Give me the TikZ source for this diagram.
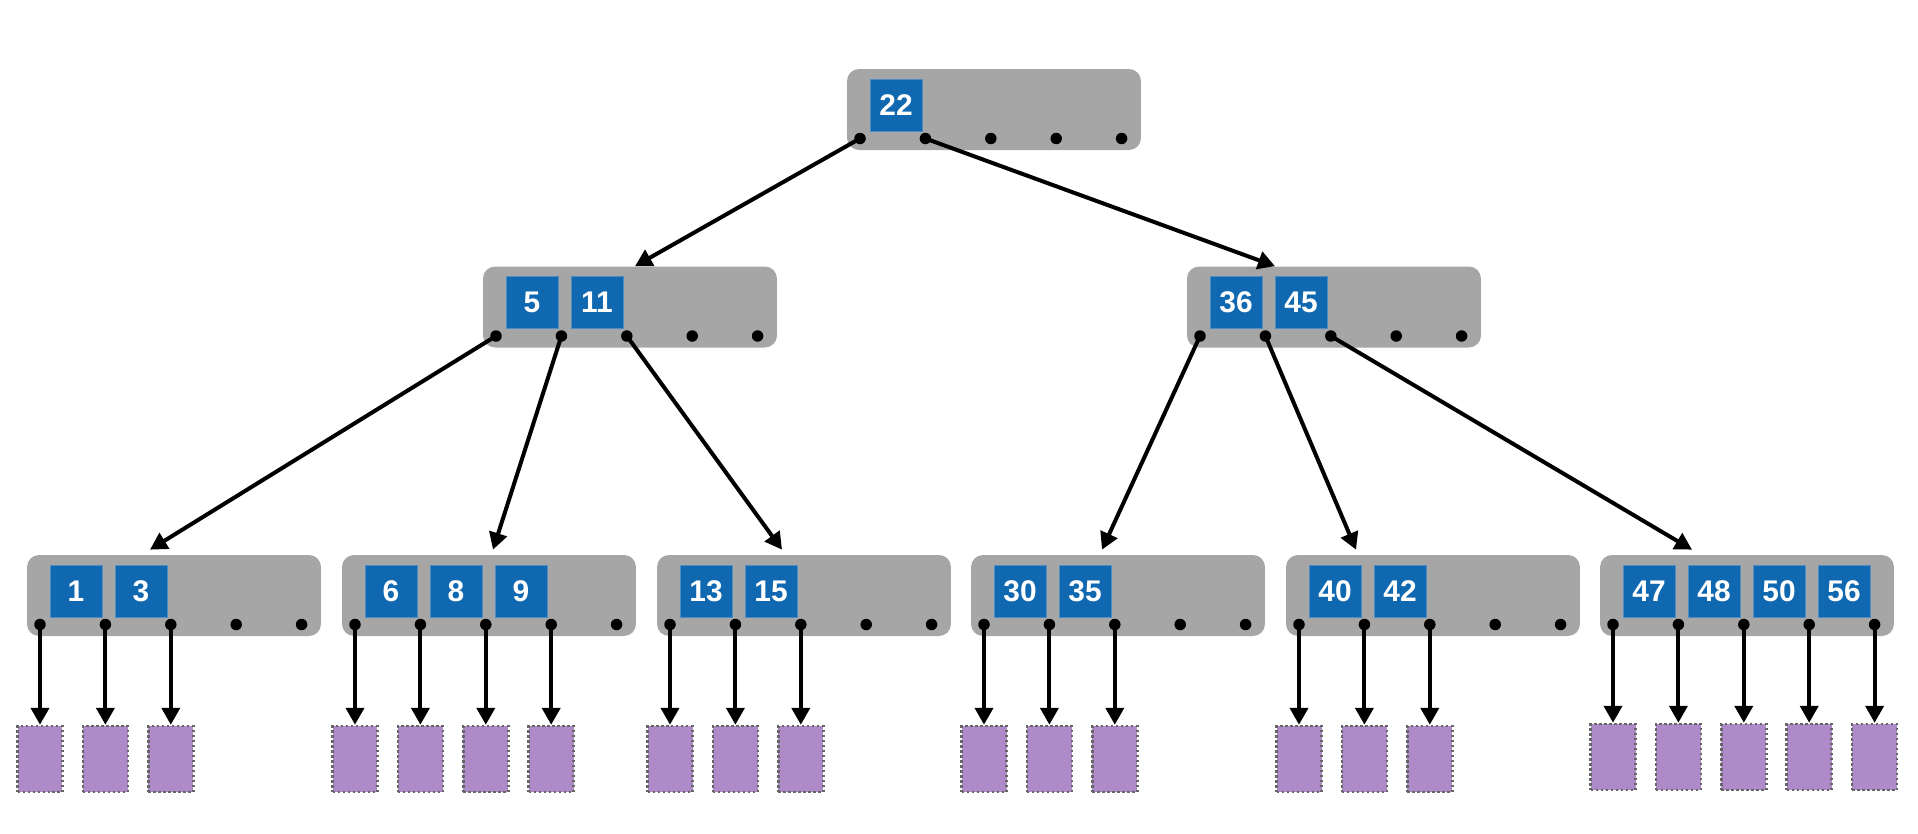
\documentclass[tikz,border=0pt]{standalone}
\usepackage{fontspec}
\setmainfont{Liberation Sans}
\usetikzlibrary{arrows.meta}

\definecolor{keyblue}{RGB}{16,104,176}
\definecolor{pagepurple}{RGB}{175,138,200}

\begin{document}
\begin{tikzpicture}
	[
		x=0.02cm, y=-0.02cm,
		bnode/.style = {shape=rectangle, rounded corners=0.24cm, fill=black!35, minimum width=5.88cm, minimum height=1.62cm, anchor=center},
		key/.style = {shape=rectangle, fill=keyblue, draw=keyblue!75!white, line width=0.4pt, inner sep=0pt, minimum size=1.04cm, text=white, font=\fontsize{17}{17}\selectfont\bfseries},
		ptr/.style = {shape=circle, fill=black, inner sep=0pt, minimum size=0.23cm},
		page/.style = {shape=rectangle, fill=pagepurple, draw=black!60, line width=0.05cm, dash pattern=on 0.05cm off 0.05cm, minimum width=0.9cm, minimum height=1.32cm},
		link/.style = {-{Triangle[length=0.34cm, width=0.36cm]}, line width=0.08cm}
	]
	
	\useasboundingbox (0,0) rectangle (1918,833);
	
	% root
	\def\x{994}
	\def\y{109.5}
	
	\node [bnode] (root) at (\x, \y) {};
	\node [key] (k22) at ({\x - 98}, {\y - 4.5}) {22};
	\foreach \i in {0,...,4}
		\node [ptr] (root-p\i) at ({\x - 134 + 65.4*\i}, {\y + 29}) {};
	
	% second level
	\def\y{307}
	\def\x{630}
	
	\node [bnode] (nl) at (\x, \y) {};
	\node [key] (k5) at ({\x - 98}, {\y - 4.5}) {5};
	\node [key] (k11) at ({\x - 33}, {\y - 4.5}) {11};
	\foreach \i in {0,...,4}
		\node [ptr] (nl-p\i) at ({\x - 134 + 65.4*\i}, {\y + 29}) {};
	
	\def\x{1334}
	
	\node [bnode] (nr) at (\x, \y) {};
	\node [key] (k36) at ({\x - 98}, {\y - 4.5}) {36};
	\node [key] (k45) at ({\x - 33}, {\y - 4.5}) {45};
	\foreach \i in {0,...,4}
		\node [ptr] (nr-p\i) at ({\x - 134 + 65.4*\i}, {\y + 29}) {};
	
	\draw [link] (root-p0.center) -- ([xshift=0.1cm]nl.north);
	\draw [link] (root-p1.center) -- ([xshift=-1.18cm]nr.north);
	
	% leaves
	\def\y{595.5}
	\def\x{174}
	
	\node [bnode] (la) at (\x, \y) {};
	\node [key] (k1) at ({\x - 98}, {\y - 4.5}) {1};
	\node [key] (k3) at ({\x - 33}, {\y - 4.5}) {3};
	\foreach \i in {0,...,4}
		\node [ptr] (la-p\i) at ({\x - 134 + 65.4*\i}, {\y + 29}) {};
	\foreach \i in {0,1,2} {
		\node [page] (la-d\i) at ({\x - 134 + 65.4*\i}, 759) {};
		\draw [link] (la-p\i.center) -- (la-d\i.north);
	}
	
	\def\x{489}
	
	\node [bnode] (lb) at (\x, \y) {};
	\node [key] (k6) at ({\x - 98}, {\y - 4.5}) {6};
	\node [key] (k8) at ({\x - 33}, {\y - 4.5}) {8};
	\node [key] (k9) at ({\x + 32}, {\y - 4.5}) {9};
	\foreach \i in {0,...,4}
		\node [ptr] (lb-p\i) at ({\x - 134 + 65.4*\i}, {\y + 29}) {};
	\foreach \i in {0,...,3} {
		\node [page] (lb-d\i) at ({\x - 134 + 65.4*\i}, 759) {};
		\draw [link] (lb-p\i.center) -- (lb-d\i.north);
	}
	
	\def\x{804}
	
	\node [bnode] (lc) at (\x, \y) {};
	\node [key] (k13) at ({\x - 98}, {\y - 4.5}) {13};
	\node [key] (k15) at ({\x - 33}, {\y - 4.5}) {15};
	\foreach \i in {0,...,4}
		\node [ptr] (lc-p\i) at ({\x - 134 + 65.4*\i}, {\y + 29}) {};
	\foreach \i in {0,1,2} {
		\node [page] (lc-d\i) at ({\x - 134 + 65.4*\i}, 759) {};
		\draw [link] (lc-p\i.center) -- (lc-d\i.north);
	}
	
	\def\x{1118}
	
	\node [bnode] (ld) at (\x, \y) {};
	\node [key] (k30) at ({\x - 98}, {\y - 4.5}) {30};
	\node [key] (k35) at ({\x - 33}, {\y - 4.5}) {35};
	\foreach \i in {0,...,4}
		\node [ptr] (ld-p\i) at ({\x - 134 + 65.4*\i}, {\y + 29}) {};
	\foreach \i in {0,1,2} {
		\node [page] (ld-d\i) at ({\x - 134 + 65.4*\i}, 759) {};
		\draw [link] (ld-p\i.center) -- (ld-d\i.north);
	}
	
	\def\x{1433}
	
	\node [bnode] (le) at (\x, \y) {};
	\node [key] (k40) at ({\x - 98}, {\y - 4.5}) {40};
	\node [key] (k42) at ({\x - 33}, {\y - 4.5}) {42};
	\foreach \i in {0,...,4}
		\node [ptr] (le-p\i) at ({\x - 134 + 65.4*\i}, {\y + 29}) {};
	\foreach \i in {0,1,2} {
		\node [page] (le-d\i) at ({\x - 134 + 65.4*\i}, 759) {};
		\draw [link] (le-p\i.center) -- (le-d\i.north);
	}
	
	\def\x{1747}
	
	\node [bnode] (lf) at (\x, \y) {};
	\node [key] (k47) at ({\x - 98}, {\y - 4.5}) {47};
	\node [key] (k48) at ({\x - 33}, {\y - 4.5}) {48};
	\node [key] (k50) at ({\x + 32}, {\y - 4.5}) {50};
	\node [key] (k56) at ({\x + 97}, {\y - 4.5}) {56};
	\foreach \i in {0,...,4}
		\node [ptr] (lf-p\i) at ({\x - 134 + 65.4*\i}, {\y + 29}) {};
	\foreach \i in {0,...,4} {
		\node [page] (lf-d\i) at ({\x - 134 + 65.4*\i}, 757) {};
		\draw [link] (lf-p\i.center) -- (lf-d\i.north);
	}
	
	\draw [link] (nl-p0.center) -- ([xshift=-0.48cm, yshift=0.1cm]la.north);
	\draw [link] (nl-p1.center) -- ([xshift=0.08cm, yshift=0.1cm]lb.north);
	\draw [link] (nl-p2.center) -- ([xshift=-0.44cm, yshift=0.1cm]lc.north);
	\draw [link] (nr-p0.center) -- ([xshift=-0.32cm, yshift=0.1cm]ld.north);
	\draw [link] (nr-p1.center) -- ([xshift=-1.54cm, yshift=0.1cm]le.north);
	\draw [link] (nr-p2.center) -- ([xshift=-1.1cm, yshift=0.1cm]lf.north);
	
\end{tikzpicture}
\end{document}
